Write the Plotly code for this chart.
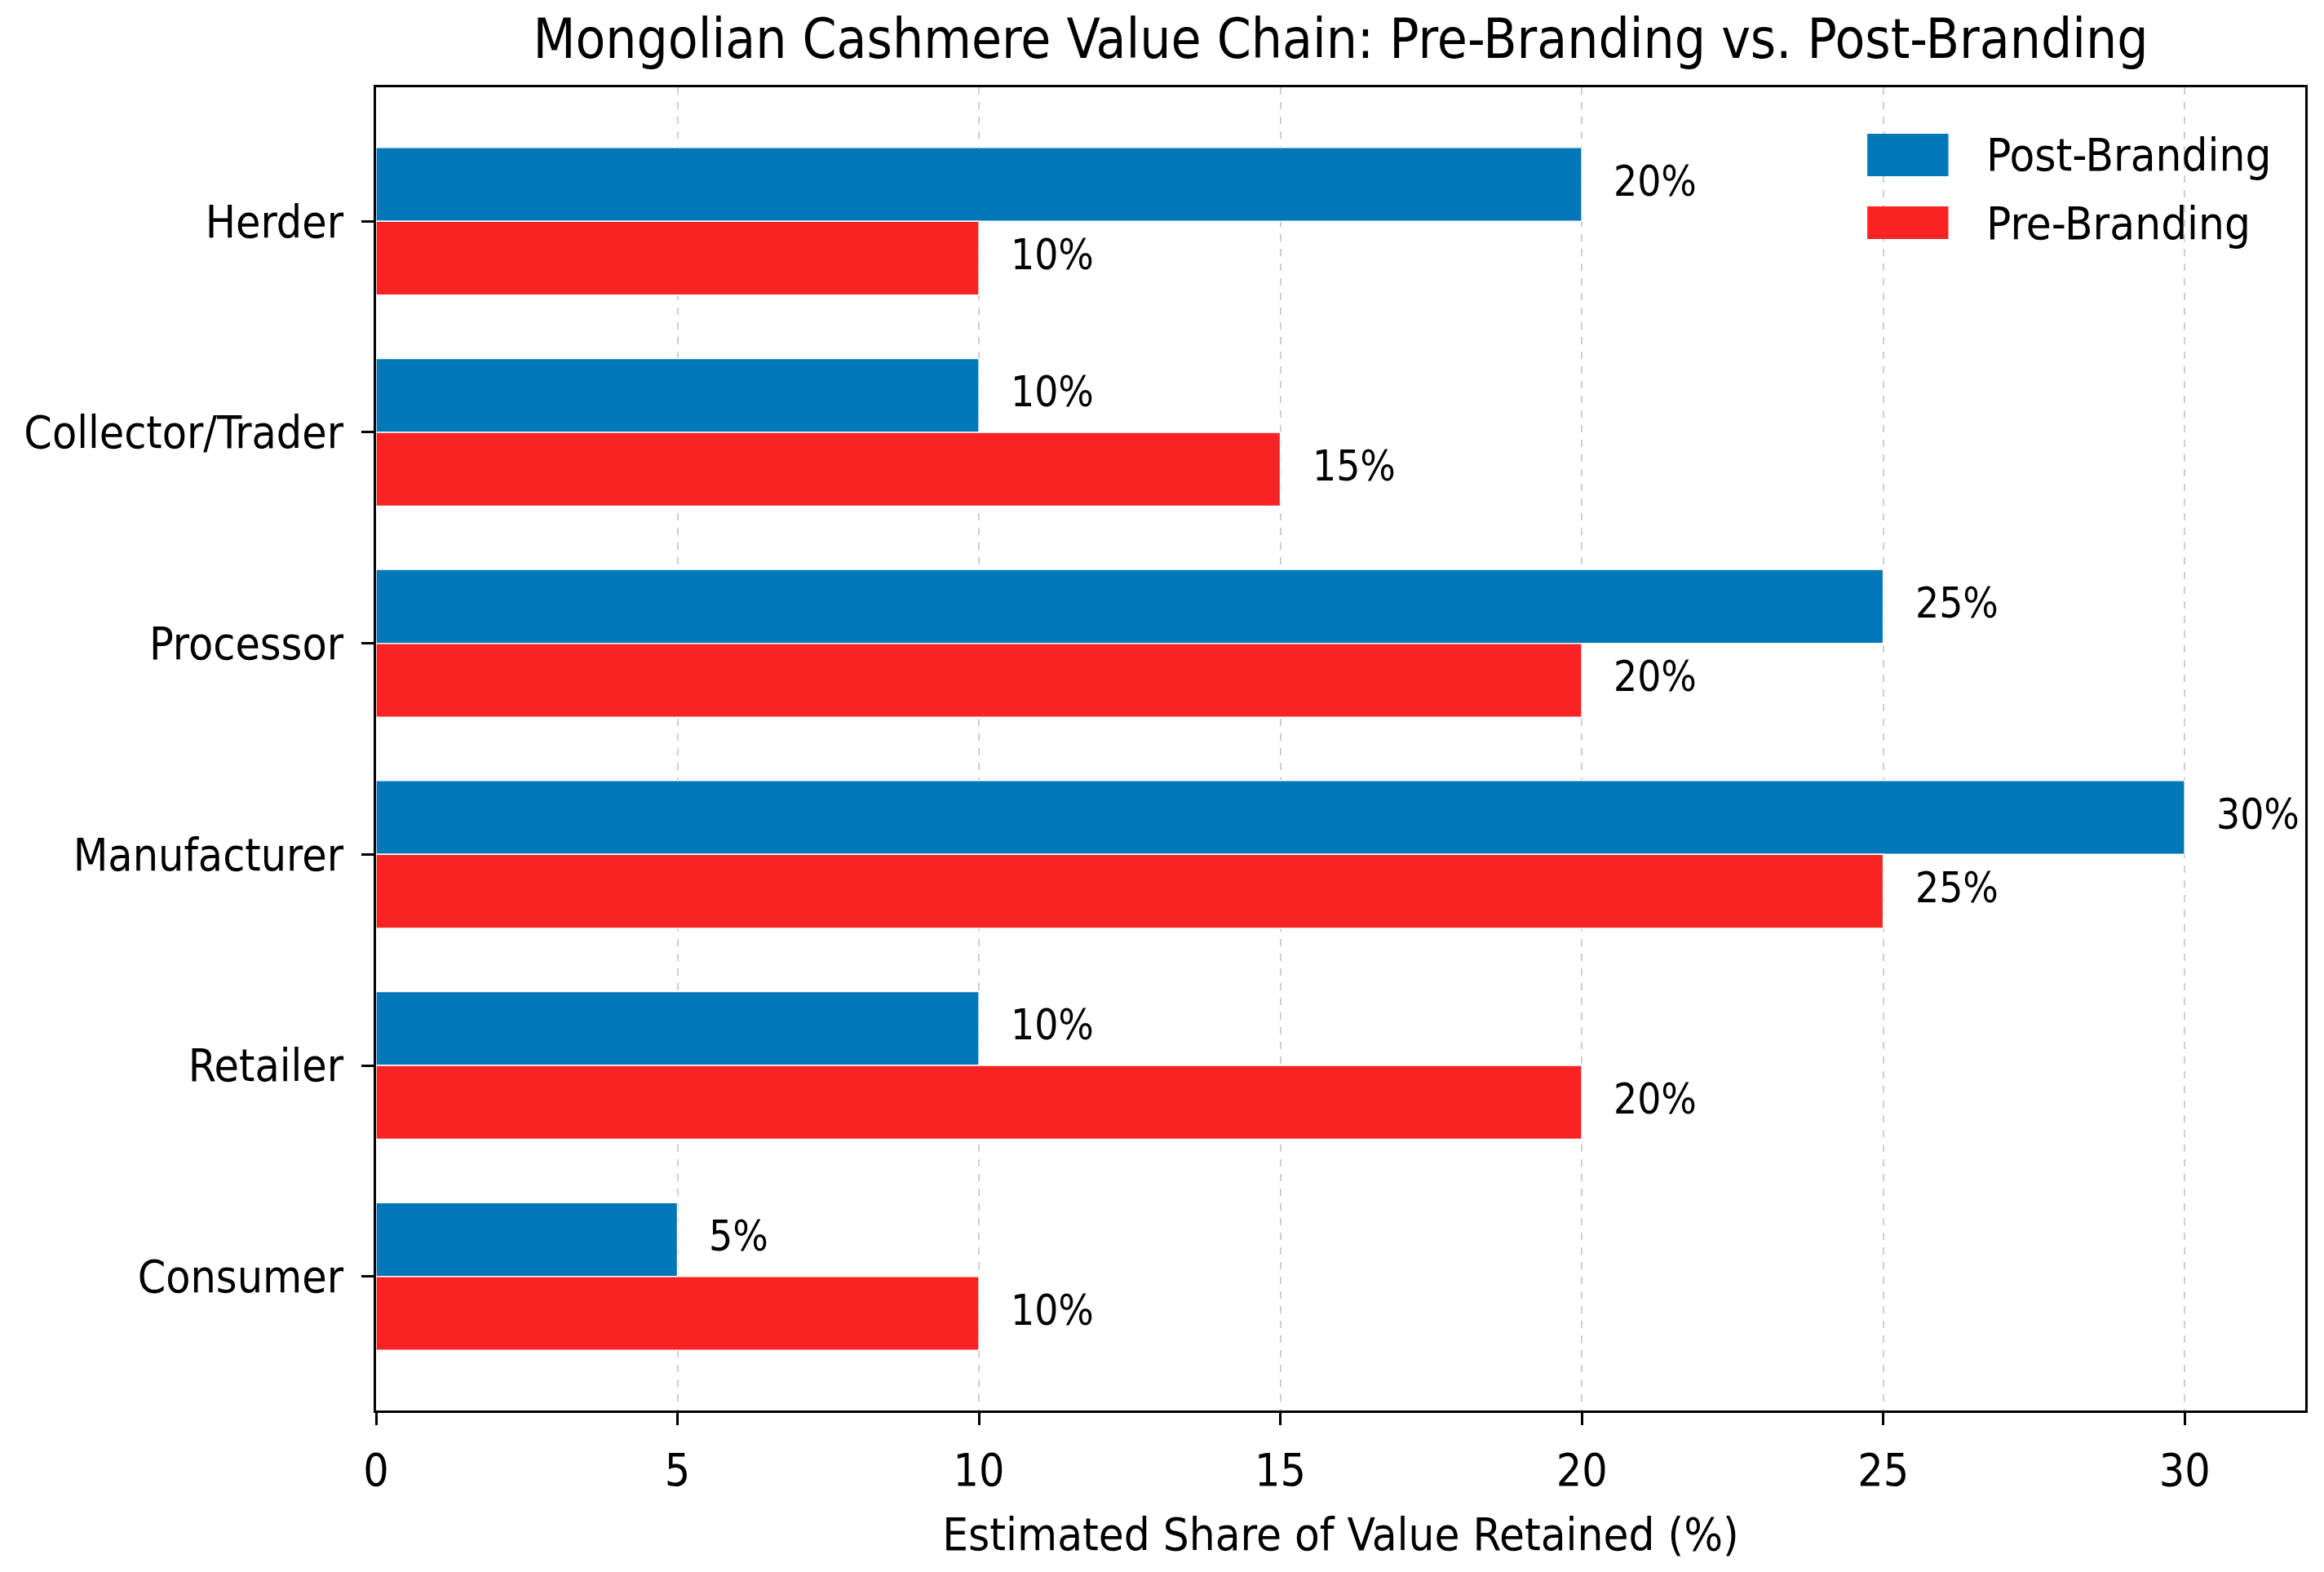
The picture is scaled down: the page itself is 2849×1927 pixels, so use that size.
import plotly.graph_objects as go

categories = ["Herder", "Collector/Trader", "Processor", "Manufacturer", "Retailer", "Consumer"]
post_branding = [20, 10, 25, 30, 10, 5]
pre_branding = [10, 15, 20, 25, 20, 10]
x_ticks = [0, 5, 10, 15, 20, 25, 30]
series_names = ["Post-Branding", "Pre-Branding"]

BLUE = "#0077B6"
RED = "#F82424"
FONT = "DejaVu Sans Condensed, DejaVu Sans, sans-serif"
BAR_W = 0.35

idx = list(range(len(categories)))

fig = go.Figure()
fig.add_trace(go.Bar(
    y=idx, x=post_branding, orientation="h", name=series_names[0],
    width=BAR_W, offset=-BAR_W, marker=dict(color=BLUE, line=dict(color="white", width=1.5)),
    showlegend=False,
))
fig.add_trace(go.Bar(
    y=idx, x=pre_branding, orientation="h", name=series_names[1],
    width=BAR_W, offset=0, marker=dict(color=RED, line=dict(color="white", width=1.5)),
    showlegend=False,
))

annotations = []
for i, (p, q) in enumerate(zip(post_branding, pre_branding)):
    annotations.append(dict(x=p + 0.5, y=i - BAR_W / 2, xref="x", yref="y", text=f"{p}%",
                            showarrow=False, xanchor="left", yanchor="middle", yshift=4,
                            font=dict(family=FONT, size=51, color="black")))
    annotations.append(dict(x=q + 0.5, y=i + BAR_W / 2, xref="x", yref="y", text=f"{q}%",
                            showarrow=False, xanchor="left", yanchor="middle", yshift=4,
                            font=dict(family=FONT, size=51, color="black")))

# custom legend (upper right, no frame)
legend_items = [(series_names[0], BLUE, 0.9649, 0.9328), (series_names[1], RED, 0.910, 0.8853)]
shapes = []
for name, col, y1, y0 in legend_items:
    shapes.append(dict(type="rect", xref="paper", yref="paper", x0=0.773, x1=0.815, y0=y0, y1=y1,
                       fillcolor=col, line=dict(width=0)))
    annotations.append(dict(x=0.834, y=(y0 + y1) / 2, xref="paper", yref="paper", text=name,
                            showarrow=False, xanchor="left", yanchor="middle",
                            font=dict(family=FONT, size=56, color="black")))

fig.update_layout(
    width=2849, height=1927,
    margin=dict(l=461, r=23, t=107, b=198),
    paper_bgcolor="white", plot_bgcolor="white",
    font=dict(family=FONT, color="black"),
    title=dict(text="Mongolian Cashmere Value Chain: Pre-Branding vs. Post-Branding",
               x=0.5, xref="paper", xanchor="center", y=1 - 48 / 1927, yref="container",
               yanchor="middle", font=dict(family=FONT, size=67, color="black")),
    barmode="overlay",
    shapes=shapes,
    annotations=annotations,
)

fig.update_xaxes(
    range=[0, 32], tickvals=x_ticks, ticktext=[str(t) for t in x_ticks],
    showgrid=True, gridcolor="#cfcfcf", gridwidth=2, griddash="dash",
    showline=True, mirror=True, linecolor="black", linewidth=3,
    ticks="outside", ticklen=15, tickwidth=3, tickcolor="black",
    tickfont=dict(family=FONT, size=55, color="black"), ticklabelstandoff=8,
    zeroline=False, layer="above traces",
    title=dict(text="Estimated Share of Value Retained (%)", standoff=28,
               font=dict(family=FONT, size=56, color="black")),
)
fig.update_yaxes(
    range=[len(categories) - 1 + 0.635, -0.635], tickvals=idx, ticktext=categories,
    showgrid=False, zeroline=False,
    showline=True, mirror=True, linecolor="black", linewidth=3,
    ticks="outside", ticklen=15, tickwidth=3, tickcolor="black",
    tickfont=dict(family=FONT, size=55, color="black"), ticklabelstandoff=11,
    layer="above traces",
)

fig.write_html("out.html", config={"displayModeBar": False},
               post_script="document.body.style.margin='0';")
